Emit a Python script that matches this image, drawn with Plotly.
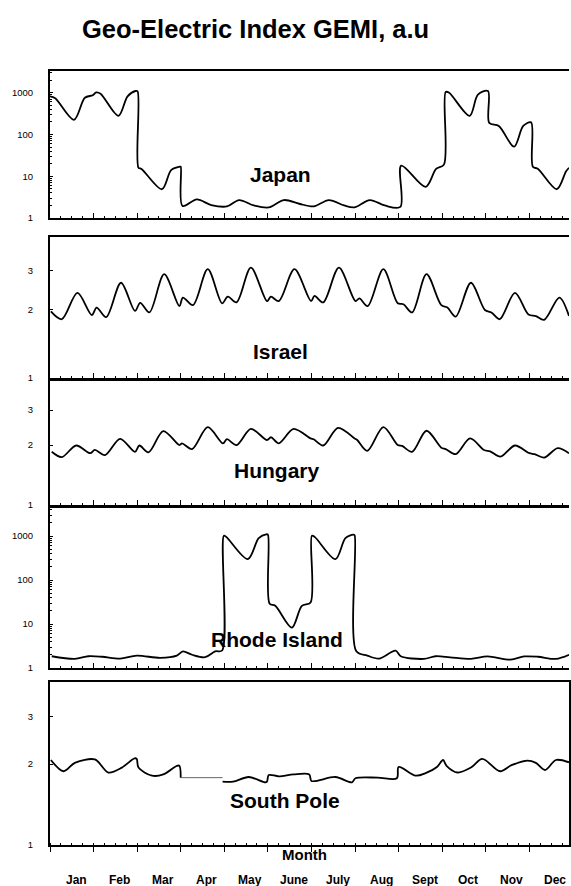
import plotly.graph_objects as go

months = ["Jan", "Feb", "Mar", "Apr", "May", "June", "July", "Aug", "Sept", "Oct", "Nov", "Dec"]

japan_x = [0.00, 0.12, 0.55, 0.80, 0.98, 1.06, 1.16, 1.57, 1.78, 1.96, 2.01, 2.03, 2.10, 2.57, 2.78, 2.98,
           3.00, 3.04, 3.37, 3.70, 4.06, 4.34, 4.68, 5.02, 5.37, 5.72, 6.05, 6.40, 6.75, 6.98, 7.34, 7.68,
           8.04, 8.06, 8.62, 8.86, 9.04, 9.08, 9.16, 9.63, 9.82, 10.05, 10.08, 10.30, 10.65, 10.86, 11.04,
           11.08, 11.20, 11.63, 11.84, 11.91]
japan_y = [820, 740, 225, 760, 870, 1020, 950, 280, 820, 1100, 1080, 16, 15, 4.9, 14, 17,
           17, 1.95, 2.8, 2.05, 1.9, 2.7, 2.0, 1.8, 2.7, 2.2, 1.9, 2.7, 2.0, 1.8, 2.7, 2.0,
           1.85, 18, 5.6, 15, 19, 1040, 1000, 280, 900, 1100, 190, 160, 51, 160, 195,
           17, 15, 4.9, 13, 16]

israel_x = [0.02, 0.27, 0.63, 0.96, 1.07, 1.29, 1.63, 1.95, 2.07, 2.28, 2.62, 2.97, 3.05, 3.28, 3.62, 3.95,
            4.08, 4.28, 4.61, 4.98, 5.07, 5.25, 5.61, 5.99, 6.07, 6.27, 6.63, 7.01, 7.10, 7.29, 7.65, 7.98,
            8.11, 8.31, 8.64, 8.98, 9.12, 9.31, 9.66, 9.98, 10.13, 10.32, 10.67, 10.98, 11.15, 11.34, 11.69, 11.91]
israel_y = [1.97, 1.82, 2.38, 1.90, 2.05, 1.86, 2.64, 1.98, 2.15, 1.95, 2.88, 2.08, 2.27, 2.10, 3.03, 2.14,
            2.29, 2.16, 3.08, 2.19, 2.29, 2.19, 3.03, 2.19, 2.31, 2.16, 3.08, 2.19, 2.25, 2.08, 3.03, 2.14,
            2.12, 1.95, 2.88, 2.10, 2.05, 1.87, 2.64, 2.00, 1.95, 1.82, 2.38, 1.91, 1.88, 1.81, 2.27, 1.88]

hungary_x = [0.04, 0.27, 0.60, 0.92, 1.03, 1.26, 1.61, 1.95, 2.05, 2.26, 2.60, 2.97, 3.03, 3.26, 3.62, 3.97,
             4.06, 4.28, 4.61, 4.98, 5.07, 5.25, 5.59, 5.98, 6.05, 6.27, 6.61, 6.99, 7.05, 7.28, 7.65, 7.98,
             8.08, 8.31, 8.64, 8.98, 9.08, 9.31, 9.64, 9.96, 10.10, 10.34, 10.67, 11.00, 11.12, 11.34, 11.65, 11.91]
hungary_y = [1.85, 1.74, 1.99, 1.82, 1.89, 1.78, 2.15, 1.85, 1.99, 1.84, 2.35, 2.00, 2.04, 1.91, 2.46, 2.04,
             2.14, 2.00, 2.41, 2.12, 2.19, 2.04, 2.41, 2.16, 2.14, 1.99, 2.44, 2.16, 2.12, 1.87, 2.46, 2.00,
             1.98, 1.85, 2.36, 1.94, 1.91, 1.80, 2.16, 1.89, 1.86, 1.75, 1.99, 1.82, 1.80, 1.73, 1.93, 1.82]

rhode_x = [0.04, 0.57, 0.88, 1.20, 1.61, 1.99, 2.53, 2.91, 3.05, 3.26, 3.56, 3.79, 3.95, 3.99, 4.05, 4.54,
           4.79, 4.96, 5.00, 5.04, 5.17, 5.55, 5.78, 5.98, 6.01, 6.08, 6.55, 6.78, 6.96, 6.99, 7.03, 7.28,
           7.55, 7.93, 8.05, 8.58, 8.85, 9.18, 9.66, 10.04, 10.57, 10.88, 11.20, 11.61, 11.91]
rhode_y = [1.85, 1.61, 1.85, 1.80, 1.64, 1.91, 1.70, 1.91, 2.39, 2.00, 1.76, 2.39, 2.50, 1020, 950, 300,
           900, 1100, 1080, 29, 26, 8.3, 26, 31, 1020, 950, 300, 900, 1080, 1050, 2.39, 1.91,
           1.64, 2.47, 1.85, 1.61, 1.85, 1.75, 1.61, 1.83, 1.55, 1.83, 1.80, 1.61, 2.00]

south_x = [0.02, 0.31, 0.57, 1.03, 1.34, 1.65, 1.94, 1.99, 2.03, 2.34, 2.60, 2.91, 2.97, 3.00, None,
           3.96, 4.20, 4.56, 4.94, 4.98, 5.02, 5.25, 5.59, 5.95, 6.00, 6.55, 6.93, 7.01, 7.52, 7.96, 8.00,
           8.39, 8.62, 8.88, 9.02, 9.10, 9.35, 9.66, 9.92, 10.33, 10.59, 10.96, 11.15, 11.36, 11.61, 11.91]
south_y = [2.07, 1.88, 2.02, 2.08, 1.86, 1.94, 2.10, 2.09, 1.94, 1.81, 1.83, 1.97, 1.97, 1.78, None,
           1.72, 1.72, 1.79, 1.71, 1.72, 1.82, 1.80, 1.83, 1.83, 1.73, 1.79, 1.71, 1.77, 1.78, 1.77, 1.95,
           1.81, 1.85, 1.95, 2.07, 1.97, 1.86, 1.94, 2.09, 1.88, 1.98, 2.06, 2.02, 1.90, 2.07, 2.03]
south_gap_x = [3.00, 3.96]
south_gap_y = [1.78, 1.78]

log_ticks = [1, 10, 100, 1000]
log_ticktext = ["1", "10", "100", "1000"]
small_ticks = [1, 2, 3]
small_ticktext = ["1", "2", "3"]
log_minor = [m * 10 ** k for k in range(0, 4) for m in range(2, 10)]

FONT = "Liberation Sans, Arial, sans-serif"

panels = [
    dict(name="Japan", x=japan_x, y=japan_y, rng=[0, 3.52], dom=[0.810, 1.0],
         tv=log_ticks, tt=log_ticktext, minor=log_minor, lab=(5.3, 0.293)),
    dict(name="Israel", x=israel_x, y=israel_y, rng=[0, 0.624], dom=[0.6034, 0.7855],
         tv=small_ticks, tt=small_ticktext, minor=[], lab=(5.3, 0.19)),
    dict(name="Hungary", x=hungary_x, y=hungary_y, rng=[0, 0.623], dom=[0.4393, 0.5995],
         tv=small_ticks, tt=small_ticktext, minor=[], lab=(5.2, 0.28)),
    dict(name="Rhode Island", x=rhode_x, y=rhode_y, rng=[0, 3.64], dom=[0.2287, 0.4354],
         tv=log_ticks, tt=log_ticktext, minor=log_minor, lab=(5.2, 0.18)),
    dict(name="South Pole", x=south_x, y=south_y, rng=[0, 0.606], dom=[0.0, 0.2106],
         tv=small_ticks, tt=small_ticktext, minor=[], lab=(5.4, 0.276)),
]

fig = go.Figure()
layout = dict(
    width=571, height=886,
    margin=dict(l=50, r=2, t=71, b=41, autoexpand=False),
    paper_bgcolor="white", plot_bgcolor="white",
    showlegend=False,
    font=dict(family=FONT, color="black"),
)
annotations = []
n = len(panels)
for i, p in enumerate(panels, start=1):
    xa = "x" if i == 1 else f"x{i}"
    ya = "y" if i == 1 else f"y{i}"
    fig.add_trace(go.Scatter(x=p["x"], y=p["y"], mode="lines", xaxis=xa, yaxis=ya,
                             line=dict(color="black", width=1.8, shape="spline", smoothing=0.9),
                             connectgaps=False, hoverinfo="skip"))
    last = (i == n)
    layout["xaxis" if i == 1 else f"xaxis{i}"] = dict(
        range=[0, 11.91], anchor=ya, domain=[0, 1], automargin=False,
        showline=True, linecolor="black", linewidth=1.5, mirror=True,
        tickvals=list(range(13)), ticks="outside" if last else "inside", ticklen=5,
        tickcolor="black", tickwidth=1,
        showticklabels=False, showgrid=False, zeroline=False,
        minor=dict(dtick=0.25, tick0=0, ticks="inside", ticklen=2, tickcolor="black"),
    )
    yax = dict(
        type="log", range=p["rng"], domain=p["dom"], anchor=xa, automargin=False,
        showline=True, linecolor="black", linewidth=2, mirror=last,
        tickvals=p["tv"], ticktext=p["tt"], ticks="inside", ticklen=3, tickcolor="black",
        tickfont=dict(size=9.5, family=FONT), ticklabelstandoff=13,
        showgrid=False, zeroline=False,
    )
    if p["minor"]:
        yax["minor"] = dict(tickvals=p["minor"], ticks="inside", ticklen=2, tickcolor="black")
    layout["yaxis" if i == 1 else f"yaxis{i}"] = yax
    annotations.append(dict(text=f"<b>{p['name']}</b>", x=p["lab"][0], y=p["lab"][1],
                            xref=xa, yref=f"{ya} domain", showarrow=False,
                            xanchor="center", yanchor="middle",
                            font=dict(size=21, family=FONT, color="black")))

fig.add_trace(go.Scatter(x=south_gap_x, y=south_gap_y, mode="lines", xaxis="x5", yaxis="y5",
                         line=dict(color="#666666", width=1), hoverinfo="skip"))

for k, m in enumerate(months):
    annotations.append(dict(text=f"<b>{m}</b>", x=k + 0.6, y=-0.0452, xref="x5", yref="paper",
                            showarrow=False, xanchor="center", yanchor="middle",
                            font=dict(size=12, family=FONT, color="black")))
annotations.append(dict(text="<b>Month</b>", x=5.85, y=-0.0129, xref="x5", yref="paper",
                        showarrow=False, xanchor="center", yanchor="middle",
                        font=dict(size=15, family=FONT, color="black")))
annotations.append(dict(text="<b>Geo-Electric Index GEMI, a.u</b>",
                        x=(255 - 50) / 519, y=1 + (71 - 29) / 774, xref="paper", yref="paper",
                        showarrow=False, xanchor="center", yanchor="middle",
                        font=dict(size=25.5, family=FONT, color="black")))
layout["annotations"] = annotations
fig.update_layout(**layout)
fig.write_html("out.html", config={"displayModeBar": False},
               post_script="document.body.style.margin='0px';document.body.style.overflow='hidden';")
